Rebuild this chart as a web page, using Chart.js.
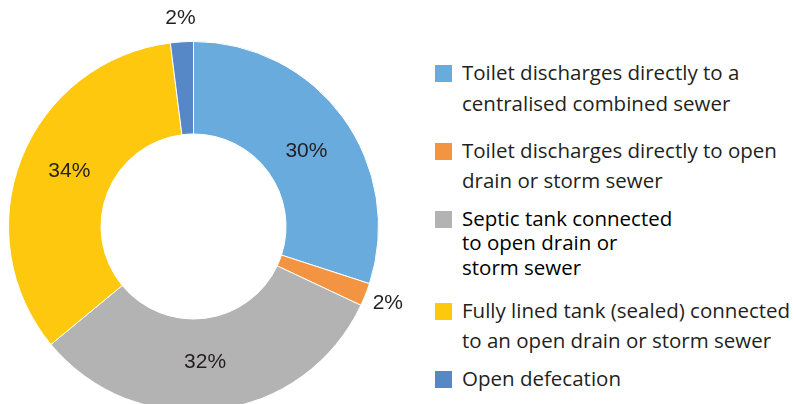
<!DOCTYPE html>
<html>
<head>
<meta charset="utf-8">
<script src="https://cdn.jsdelivr.net/npm/chart.js@4.4.1/dist/chart.umd.min.js"></script>
<style>
  html, body { margin: 0; padding: 0; background: #fff; }
  body { width: 793px; height: 404px; overflow: hidden; position: relative; }
  #wrap { position: absolute; left: 0; top: 0; width: 430px; height: 430px; }
  #legend { position: absolute; left: 0; top: 0; font-family: "Open Sans", sans-serif; font-size: 20.5px; color: #231f20; }
  .item { position: absolute; left: 435px; white-space: nowrap; }
  .box { position: absolute; left: 0; width: 17px; height: 17px; }
  .txt { position: absolute; left: 27px; top: 0; }
</style>
</head>
<body>
<div id="wrap"><canvas id="donut" width="430" height="430"></canvas></div>
<div id="legend"></div>
<script>
const categories = [
  "Toilet discharges directly to a\ncentralised combined sewer",
  "Toilet discharges directly to open\ndrain or storm sewer",
  "Septic tank connected\nto open drain or\nstorm sewer",
  "Fully lined tank (sealed) connected\nto an open drain or storm sewer",
  "Open defecation"
];
const shares = [30, 2, 32, 34, 2];
const colors = ["#69abdc", "#f29441", "#b3b3b3", "#fdc80d", "#5687c6"];

// legend layout: centre of first line and line spacing for each entry
const legendFirstLine = [72, 150, 218, 310, 378];
const legendLineHeight = [31, 30, 24.5, 30, 30];

const labelPlugin = {
  id: "pctLabels",
  afterDatasetsDraw(chart) {
    const ctx = chart.ctx;
    const meta = chart.getDatasetMeta(0);
    ctx.save();
    ctx.font = "21px 'Liberation Sans', Arial, sans-serif";
    ctx.fillStyle = "#231f20";
    ctx.textAlign = "center";
    ctx.textBaseline = "middle";
    meta.data.forEach((arc, i) => {
      const v = chart.data.datasets[0].data[i];
      const p = arc.getProps(["x", "y", "startAngle", "endAngle", "innerRadius", "outerRadius"], true);
      // Excel-style placement leans slightly clockwise of the slice middle
      const mid = (p.startAngle + p.endAngle) / 2 + (v < 5 ? 0 : 0.04);
      const r = v < 5 ? p.outerRadius + 24 : (p.innerRadius + p.outerRadius) / 2 - 3;
      ctx.fillText(v + "%", p.x + Math.cos(mid) * r, p.y + Math.sin(mid) * r);
    });
    ctx.restore();
  }
};

const chart = new Chart(document.getElementById("donut").getContext("2d"), {
  type: "doughnut",
  data: {
    labels: categories,
    datasets: [{
      data: shares,
      backgroundColor: colors,
      borderColor: "#ffffff",
      borderWidth: 1
    }]
  },
  options: {
    responsive: false,
    animation: false,
    cutout: "50%",
    layout: { padding: { left: 8, top: 41, right: 51, bottom: 18 } },
    plugins: {
      legend: { display: false },
      tooltip: { enabled: false }
    }
  },
  plugins: [labelPlugin]
});

const legend = document.getElementById("legend");
chart.data.labels.forEach((label, i) => {
  const lines = label.split("\n");
  const lh = legendLineHeight[i];
  const item = document.createElement("div");
  item.className = "item";
  item.style.top = (legendFirstLine[i] - lh / 2) + "px";
  const box = document.createElement("div");
  box.className = "box";
  box.style.background = chart.data.datasets[0].backgroundColor[i];
  box.style.top = (lh / 2 - 8.5 + 1) + "px";
  const txt = document.createElement("div");
  txt.className = "txt";
  txt.style.lineHeight = lh + "px";
  if (i === 2) txt.style.color = "#000";
  txt.innerHTML = lines.join("<br>");
  item.appendChild(box);
  item.appendChild(txt);
  legend.appendChild(item);
});
</script>
</body>
</html>
